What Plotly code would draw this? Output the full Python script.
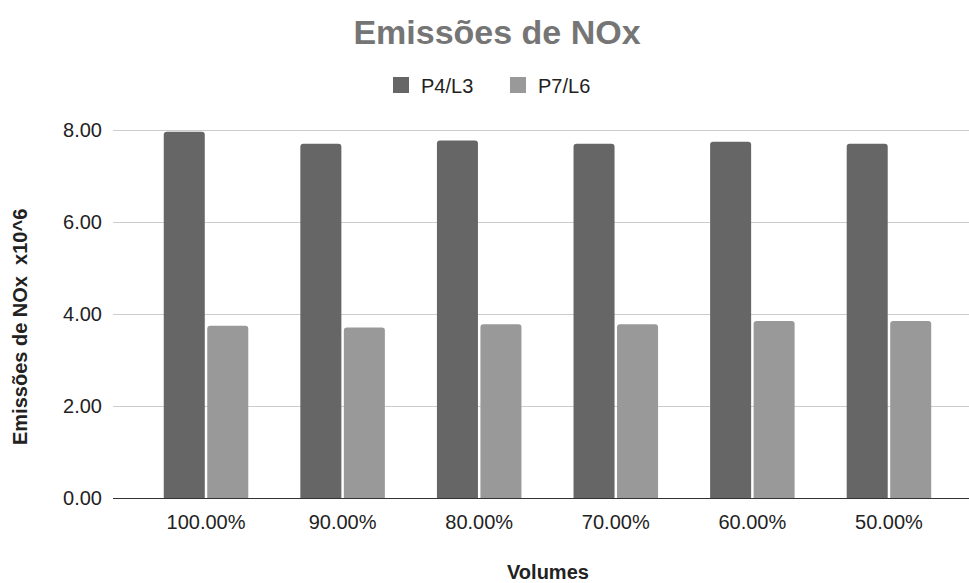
import plotly.graph_objects as go

# Volume levels on the x axis
volumes = ["100.00%", "90.00%", "80.00%", "70.00%", "60.00%", "50.00%"]

# NOx emissions (x10^6) for each configuration
series_names = ["P4/L3", "P7/L6"]
p4_l3 = [7.97, 7.71, 7.78, 7.71, 7.75, 7.71]
p7_l6 = [3.75, 3.71, 3.78, 3.78, 3.85, 3.85]

y_ticks = [0, 2, 4, 6, 8]
y_tick_text = ["0.00", "2.00", "4.00", "6.00", "8.00"]

FONT = "Liberation Sans, Arial, sans-serif"
COLORS = ["#666666", "#999999"]
W, H = 969, 583
ML, MR, MT, MB = 113, 0, 128, 85
PLOT_W = W - ML - MR
PLOT_H = H - MT - MB

fig = go.Figure()
for name, vals, col in zip(series_names, [p4_l3, p7_l6], COLORS):
    fig.add_trace(go.Bar(name=name, x=volumes, y=vals, marker_color=col,
                         marker_line_width=0, showlegend=False))
# legend entries drawn as square swatches
for name, col in zip(series_names, COLORS):
    fig.add_trace(go.Scatter(name=name, x=[None], y=[None], mode="markers",
                             marker=dict(symbol="square", size=16, color=col),
                             showlegend=True))

fig.update_layout(
    width=W, height=H,
    margin=dict(l=ML, r=MR, t=MT, b=MB),
    paper_bgcolor="white", plot_bgcolor="white",
    barmode="group", bargap=0.363, bargroupgap=0.057, barcornerradius=3,
    font=dict(family=FONT, size=20, color="#222222"),
    title=dict(text="<b>Emissões de NOx</b>", x=497 / W, xanchor="center",
               y=1 - 32 / H, yanchor="middle", yref="container",
               font=dict(family=FONT, size=34, color="#757575")),
    legend=dict(orientation="h", x=(381 - ML) / PLOT_W, xanchor="left",
                y=(H - MB - 85) / PLOT_H, yanchor="middle",
                font=dict(family=FONT, size=20, color="#222222"),
                itemwidth=30, traceorder="normal", itemsizing="trace",
                entrywidth=72, entrywidthmode="pixels"),
    showlegend=True,
)

fig.update_xaxes(
    type="category", range=[-0.681, 5.586],
    showgrid=False, showline=True, linecolor="#333333", linewidth=1.3,
    ticks="", ticklabelstandoff=6,
    tickfont=dict(family=FONT, size=20, color="#222222"),
)
fig.update_yaxes(
    range=[0, 8.05], tickvals=y_ticks, ticktext=y_tick_text,
    showgrid=True, gridcolor="#cccccc", gridwidth=1.3, zeroline=False,
    showline=False, ticks="", ticklabelstandoff=10,
    tickfont=dict(family=FONT, size=20, color="#222222"),
)

# axis titles
fig.add_annotation(text="<b>Emissões de NOx\u00a0 x10^6</b>", textangle=-90,
                   xref="paper", yref="paper",
                   x=(20 - ML) / PLOT_W, y=(H - MB - 327) / PLOT_H,
                   xanchor="center", yanchor="middle", showarrow=False,
                   font=dict(family=FONT, size=20, color="#222222"))
fig.add_annotation(text="<b>Volumes</b>", xref="paper", yref="paper",
                   x=(548 - ML) / PLOT_W, y=(H - MB - 572) / PLOT_H,
                   xanchor="center", yanchor="middle", showarrow=False,
                   font=dict(family=FONT, size=20, color="#222222"))

fig.write_html("out.html")
